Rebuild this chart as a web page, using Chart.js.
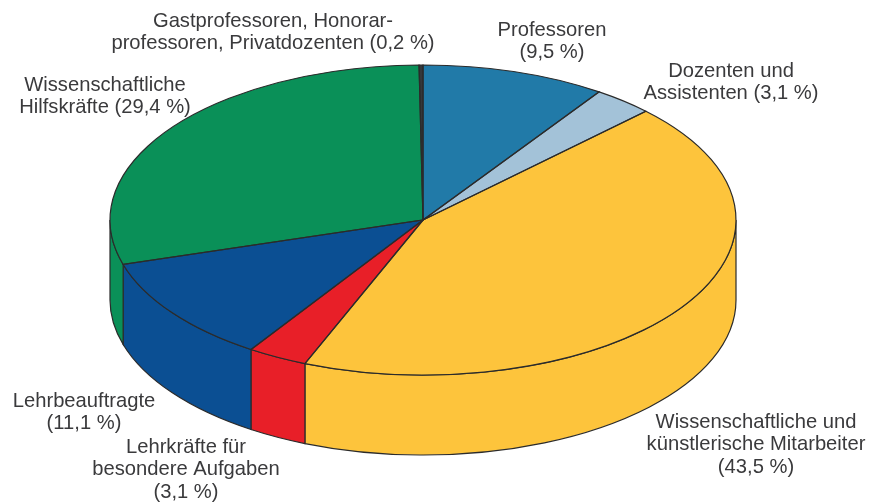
<!DOCTYPE html>
<html>
<head>
<meta charset="utf-8">
<style>
    html, body { margin: 0; padding: 0; background: #fff; }
    canvas { display: block; }
</style>
<script src="https://cdn.jsdelivr.net/npm/chart.js@4"></script>
</head>
<body>
<canvas id="pie" width="871" height="504"></canvas>
<script>
// 数据
const categories = [
    'Professoren\n',
    'Dozenten und\nAssistenten ',
    'Wissenschaftliche und\nkünstlerische Mitarbeiter\n',
    'Lehrkräfte für\nbesondere Aufgaben\n',
    'Lehrbeauftragte\n',
    'Wissenschaftliche\nHilfskräfte ',
    'Gastprofessoren, Honorar-\nprofessoren, Privatdozenten '
];
const shares = [9.5, 3.1, 43.5, 3.1, 11.1, 29.4, 0.2];
const colors = ['#217aa8', '#a3c2d8', '#fdc43c', '#e81f28', '#0b4f93', '#0a9058', '#35373a'];

// 标签位置 (第一行的中心)
const labelX = [552, 731, 756, 186, 84, 105, 273];
const labelY = [30, 71, 422, 447, 401, 85, 21];

const tilt = 155 / 313;
const depth = 80;
const edgeColor = '#2b2b2b';

function arcProps(el) {
    return el.getProps(['x', 'y', 'startAngle', 'endAngle', 'outerRadius'], true);
}

// 在压扁的坐标系里建路径, 恢复后再描边, 线宽才一致
function squash(ctx, a, dy) {
    ctx.translate(a.x, a.y + dy);
    ctx.scale(1, tilt);
}

const tiltPlugin = {
    id: 'tilt',
    beforeDatasetsDraw(chart) {
        const ctx = chart.ctx;
        // 侧面: 只画前半圈
        chart.getDatasetMeta(0).data.forEach((el, i) => {
            const a = arcProps(el);
            const from = Math.max(a.startAngle, 0);
            const to = Math.min(a.endAngle, Math.PI);
            if (to <= from) return;
            ctx.save();
            squash(ctx, a, 0);
            ctx.beginPath();
            ctx.arc(0, 0, a.outerRadius, from, to);
            ctx.restore();
            ctx.save();
            squash(ctx, a, depth);
            ctx.arc(0, 0, a.outerRadius, to, from, true);
            ctx.restore();
            ctx.closePath();
            ctx.fillStyle = colors[i];
            ctx.fill();
            ctx.strokeStyle = edgeColor;
            ctx.lineWidth = 1.2;
            ctx.stroke();
        });
        // 顶面: 圆弧元素自己按 x,y 定位, 所以绕圆心压扁
        const a = arcProps(chart.getDatasetMeta(0).data[0]);
        ctx.save();
        squash(ctx, a, 0);
        ctx.translate(-a.x, -a.y);
    },
    afterDatasetsDraw(chart) {
        const ctx = chart.ctx;
        ctx.restore();
        chart.getDatasetMeta(0).data.forEach(el => {
            const a = arcProps(el);
            ctx.save();
            squash(ctx, a, 0);
            ctx.beginPath();
            ctx.moveTo(0, 0);
            ctx.arc(0, 0, a.outerRadius, a.startAngle, a.endAngle);
            ctx.closePath();
            ctx.restore();
            ctx.strokeStyle = edgeColor;
            ctx.lineWidth = 1.2;
            ctx.stroke();
        });
    },
    afterDraw(chart) {
        const ctx = chart.ctx;
        ctx.save();
        ctx.font = '20.2px "Liberation Sans", Arial, sans-serif';
        ctx.fillStyle = '#3a3a3c';
        ctx.textAlign = 'center';
        ctx.textBaseline = 'middle';
        categories.forEach((name, i) => {
            const text = name + '(' + String(shares[i]).replace('.', ',') + ' %)';
            text.split('\n').forEach((line, n) => {
                ctx.fillText(line, labelX[i], labelY[i] + n * 22.6);
            });
        });
        ctx.restore();
    }
};

new Chart(document.getElementById('pie'), {
    type: 'pie',
    data: {
        labels: categories,
        datasets: [{
            data: shares,
            backgroundColor: colors,
            borderWidth: 0,
            clip: false
        }]
    },
    options: {
        responsive: false,
        animation: false,
        radius: 313,
        layout: { padding: { left: 0, top: 0, right: 25, bottom: 64 } },
        events: [],
        plugins: {
            legend: { display: false },
            tooltip: { enabled: false }
        }
    },
    plugins: [tiltPlugin]
});
</script>
</body>
</html>
